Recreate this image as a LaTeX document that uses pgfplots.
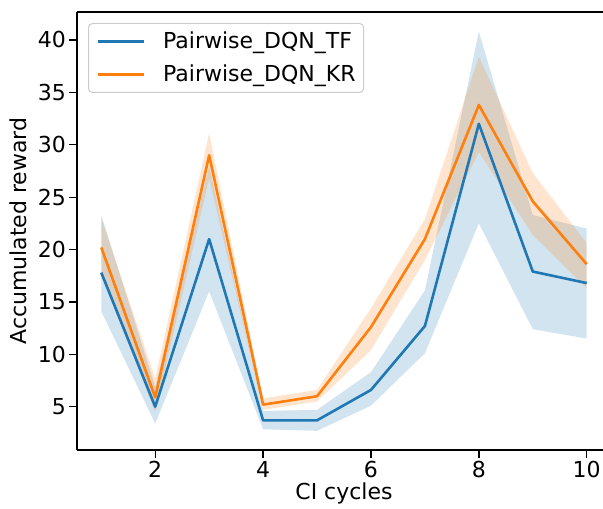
\documentclass[border=0pt]{standalone}
\usepackage{fontspec}
\setmainfont{DejaVu Sans}
\usepackage{pgfplots}
\pgfplotsset{compat=1.18}
\usepgfplotslibrary{fillbetween}
\definecolor{tabblue}{HTML}{1F77B4}
\definecolor{taborange}{HTML}{FF7F0E}
\begin{document}
\begin{tikzpicture}
\begin{axis}[
  name=ax, at={(0,0)}, anchor=south west,
  scale only axis, width=534pt, height=438pt,
  xmin=0.55, xmax=10.45, ymin=0.87, ymax=42.67,
  axis x line*=box, axis y line*=left,
  xtick={2,4,6,8,10}, ytick={5,10,15,20,25,30,35,40},
  xtick pos=left, ytick pos=left, tick align=outside, major tick length=7.7pt,
  every tick/.style={black, line width=1.3pt},
  axis line style={black, line width=1.5pt},
  /pgf/number format/assume math mode=true,
  ticklabel style={font=\fontsize{22}{26}\selectfont},
  label style={font=\fontsize{22}{26}\selectfont},
  xlabel={CI cycles}, ylabel={Accumulated reward},
  xlabel style={at={(axis description cs:0.5,-0.1130)}, anchor=base},
  ylabel style={at={(axis description cs:-0.10955,0.5)}, anchor=center},
  legend cell align=left,
  legend image code/.code={\draw[#1] (0pt,0pt) -- (46pt,0pt); \path[draw=none] (0pt,-6.6pt) -- (0pt,0pt);},
  legend style={at={(axis description cs:0,1)}, anchor=north west, xshift=11pt, yshift=-11pt,
    draw=black!20, line width=1pt, rounded corners=4pt, fill=white, fill opacity=0.8, text opacity=1,
    inner xsep=8pt, inner ysep=7pt, row sep=11pt,
    font=\fontsize{22}{26}\selectfont,
    nodes={inner sep=0pt, text height=18pt, text depth=4pt},
    /tikz/every odd column/.append style={column sep=18pt}},
]
% Pairwise_DQN_TF band
\addplot[name path=tfU, draw=none, forget plot] coordinates {(1,23.3) (2,6.9) (3,28.0) (4,4.6) (5,4.7) (6,8.3) (7,16.1) (8,40.8) (9,23.3) (10,22.0)};
\addplot[name path=tfL, draw=none, forget plot] coordinates {(1,14.1) (2,3.4) (3,16.0) (4,2.85) (5,2.7) (6,5.1) (7,10.1) (8,22.5) (9,12.4) (10,11.5)};
\addplot[tabblue, fill opacity=0.2, draw=none, forget plot] fill between[of=tfU and tfL];
% Pairwise_DQN_KR band
\addplot[name path=krU, draw=none, forget plot] coordinates {(1,23.0) (2,7.7) (3,31.1) (4,5.8) (5,6.6) (6,14.4) (7,22.9) (8,38.4) (9,27.3) (10,20.6)};
\addplot[name path=krL, draw=none, forget plot] coordinates {(1,17.6) (2,4.5) (3,26.8) (4,4.7) (5,5.5) (6,10.4) (7,19.0) (8,29.3) (9,21.4) (10,16.3)};
\addplot[taborange, fill opacity=0.2, draw=none, forget plot] fill between[of=krU and krL];
% mean lines
\addplot[tabblue, line width=2.6pt, line join=round] coordinates {(1,17.8) (2,5.0) (3,21.0) (4,3.7) (5,3.7) (6,6.6) (7,12.7) (8,32.0) (9,17.9) (10,16.8)};
\addlegendentry{Pairwise\_DQN\_TF}
\addplot[taborange, line width=2.6pt, line join=round] coordinates {(1,20.2) (2,5.9) (3,29.0) (4,5.2) (5,6.0) (6,12.6) (7,21.0) (8,33.8) (9,24.6) (10,18.6)};
\addlegendentry{Pairwise\_DQN\_KR}
\end{axis}
\pgfresetboundingbox
\path[use as bounding box] ([xshift=-77pt,yshift=-58pt]ax.south west) rectangle ([xshift=-8pt,yshift=12pt]ax.north east);
\end{tikzpicture}
\end{document}
